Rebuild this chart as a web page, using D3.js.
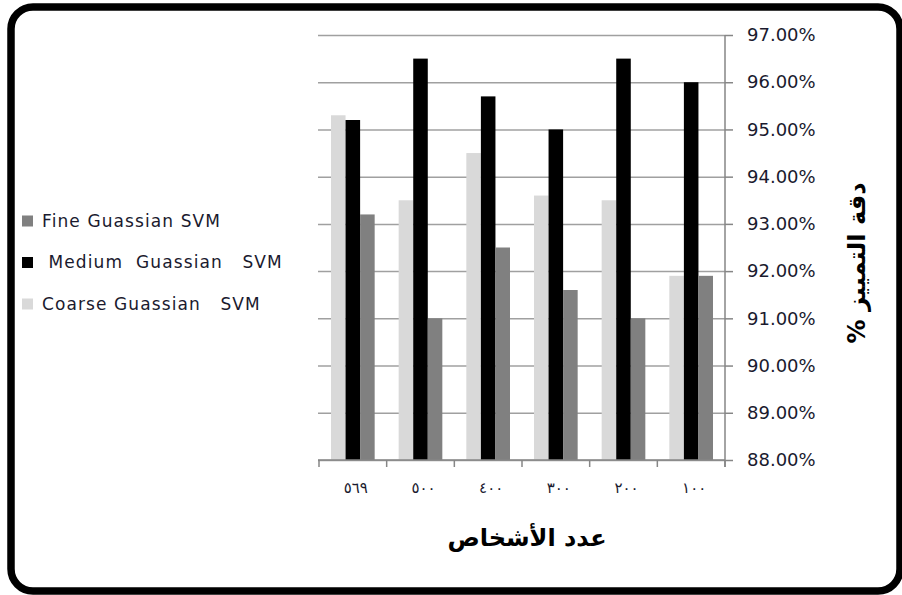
<!DOCTYPE html>
<html>
<head>
<meta charset="utf-8">
<script src="https://cdn.jsdelivr.net/npm/d3@7"></script>
<style>
  html, body { margin: 0; padding: 0; background: #fff; }
  svg { display: block; }
  text { font-family: "DejaVu Sans", sans-serif; }
</style>
</head>
<body>
<svg id="chart" width="902" height="595"></svg>
<script>
// Number of persons (categories, drawn right-to-left order as shown)
const categories = ["٥٦٩", "٥٠٠", "٤٠٠", "٣٠٠", "٢٠٠", "١٠٠"];
const seriesNames = ["Coarse Guassian   SVM", " Medium  Guassian   SVM", "Fine Guassian SVM"];
const coarseValues = [95.3, 93.5, 94.5, 93.6, 93.5, 91.9];
const mediumValues = [95.2, 96.5, 95.7, 95.0, 96.5, 96.0];
const fineValues   = [93.2, 91.0, 92.5, 91.6, 91.0, 91.9];
const seriesColors = ["#d9d9d9", "#000000", "#808080"];
const yTicks = [88, 89, 90, 91, 92, 93, 94, 95, 96, 97];
const xTitle = "عدد الأشخاص";
const yTitle = "دقة التمييز %";

const seriesValues = [coarseValues, mediumValues, fineValues];
const svg = d3.select("#chart");

// Rounded frame
svg.append("rect")
  .attr("x", 11).attr("y", 7)
  .attr("width", 889).attr("height", 584)
  .attr("rx", 22).attr("ry", 22)
  .attr("fill", "#fff").attr("stroke", "#000").attr("stroke-width", 7.5);

const plotLeft = 319, plotRight = 725, plotTop = 35, plotBottom = 460;

const x0 = d3.scaleBand().domain(categories).range([plotLeft, plotRight]);
const x1 = d3.scaleBand().domain(d3.range(seriesNames.length))
  .range([12, x0.bandwidth() - 12]);
const y = d3.scaleLinear().domain([88, 97]).range([plotBottom, plotTop]);

// Horizontal gridlines
const grid = svg.append("g")
  .attr("transform", `translate(${plotRight},0)`)
  .call(d3.axisLeft(y).tickValues(yTicks).tickSize(plotRight - plotLeft + 1).tickFormat(""));
grid.select(".domain").remove();
grid.selectAll("line").attr("stroke", "#a0a0a0").attr("stroke-width", 1.5);

// Bars
const groups = svg.append("g").selectAll("g")
  .data(categories)
  .join("g")
  .attr("transform", d => `translate(${x0(d)},0)`);

groups.selectAll("rect")
  .data((d, i) => seriesValues.map((vals, s) => ({ s, v: vals[i] })))
  .join("rect")
  .attr("x", d => x1(d.s))
  .attr("width", x1.bandwidth())
  .attr("y", d => y(d.v))
  .attr("height", d => y(88) - y(d.v))
  .attr("fill", d => seriesColors[d.s]);

// Right value axis
const yAxis = svg.append("g")
  .attr("transform", `translate(${plotRight},0)`)
  .call(d3.axisRight(y).tickValues(yTicks).tickSize(8).tickPadding(14)
    .tickFormat(d => d.toFixed(2) + "%"));
yAxis.select(".domain").attr("stroke", "#868686").attr("stroke-width", 1.5)
  .attr("d", `M0,${plotTop}V${plotBottom + 7}`);
yAxis.selectAll("line").attr("stroke", "#868686").attr("stroke-width", 1.5);
yAxis.selectAll("text").attr("font-size", 18).attr("fill", "#1a1a2e")
  .attr("font-family", "DejaVu Sans");

// Bottom category axis
const xAxis = svg.append("g")
  .attr("transform", `translate(0,${plotBottom})`)
  .call(d3.axisBottom(x0).tickSize(0).tickPadding(22));
xAxis.select(".domain").attr("stroke", "#868686").attr("stroke-width", 1.5)
  .attr("d", `M${plotLeft - 1},0H${plotRight}`);
xAxis.selectAll("text").attr("font-size", 15).attr("fill", "#1a1a2e")
  .attr("letter-spacing", "6px").attr("dx", "3px");
const bounds = categories.map(c => x0(c)).concat([x0(categories[categories.length - 1]) + x0.bandwidth()]);
xAxis.selectAll(".bound")
  .data(bounds)
  .join("line")
  .attr("class", "bound")
  .attr("x1", d => d).attr("x2", d => d)
  .attr("y1", 0).attr("y2", 7)
  .attr("stroke", "#868686").attr("stroke-width", 1.5);

// Legend
const legendOrder = [2, 1, 0];
const legend = svg.append("g").selectAll("g")
  .data(legendOrder)
  .join("g")
  .attr("transform", (d, i) => `translate(22,${221 + i * 41.5})`);
legend.append("rect")
  .attr("x", 0).attr("y", -5.5).attr("width", 11).attr("height", 11)
  .attr("fill", d => seriesColors[d]);
legend.append("text")
  .attr("x", 20).attr("dy", "0.35em")
  .attr("font-size", 17).attr("fill", "#1a1a2e")
  .attr("letter-spacing", "1.1px")
  .style("white-space", "pre")
  .text(d => seriesNames[d]);

// Axis titles
svg.append("text")
  .attr("x", 527).attr("y", 546)
  .attr("text-anchor", "middle")
  .attr("font-size", 24).attr("font-weight", "bold")
  .attr("direction", "rtl")
  .text(xTitle);

svg.append("text")
  .attr("transform", "translate(865,263) rotate(-90)")
  .attr("text-anchor", "middle")
  .attr("font-size", 24).attr("font-weight", "bold")
  .attr("direction", "rtl")
  .text(yTitle);
</script>
</body>
</html>
